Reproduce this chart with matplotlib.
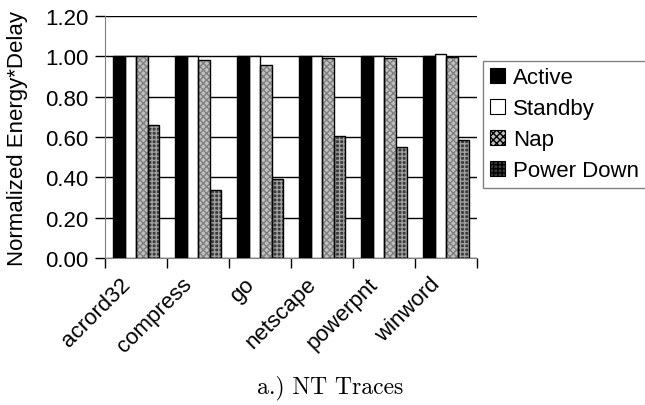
import numpy as np
import matplotlib
matplotlib.use("Agg")
import matplotlib.pyplot as plt
import matplotlib.transforms as mtransforms
from matplotlib.patches import Patch

categories = ["acrord32", "compress", "go", "netscape", "powerpnt", "winword"]
active = [1.00, 1.00, 1.00, 1.00, 1.00, 1.00]
standby = [1.00, 1.00, 1.00, 1.00, 1.00, 1.01]
nap = [1.00, 0.98, 0.955, 0.99, 0.99, 0.995]
power_down = [0.66, 0.335, 0.39, 0.605, 0.55, 0.585]
series_names = ["Active", "Standby", "Nap", "Power Down"]

plt.rcParams['font.family'] = ['Liberation Sans', 'DejaVu Sans']
plt.rcParams['hatch.linewidth'] = 1.0

fig = plt.figure(figsize=(6.45, 4.06), dpi=100)
ax = fig.add_axes([0.163, 0.362, 0.577, 0.596])

x = np.arange(len(categories))
w = 0.185
styles = [
    dict(face="black", hatch=None, hcol="black"),
    dict(face="white", hatch=None, hcol="black"),
    dict(face="#c0c0c0", hatch="xxxxx", hcol="#808080"),
    dict(face="#3a3a3a", hatch="++++", hcol="#a0a0a0"),
]
data = [active, standby, nap, power_down]
handles = []
for i, (vals, st) in enumerate(zip(data, styles)):
    pos = x + (i - 1.5) * w
    ax.bar(pos, vals, w, color=st["face"], hatch=st["hatch"],
           edgecolor=st["hcol"], linewidth=0, zorder=3)
    ax.bar(pos, vals, w, fill=False, edgecolor="black", linewidth=1.0, zorder=4)
    handles.append(Patch(facecolor=st["face"], hatch=st["hatch"],
                         edgecolor="black", linewidth=0.8))

ax.set_ylim(0, 1.2)
ax.set_xlim(-0.5, len(categories) - 0.5)
ax.set_yticks(np.arange(0, 1.21, 0.2))
ax.set_yticklabels([f"{v:.2f}" for v in np.arange(0, 1.21, 0.2)], fontsize=16)
ax.yaxis.grid(True, color="black", linewidth=1.0, zorder=0)
ax.set_axisbelow(True)

ax.set_xticks(x)
ax.set_xticklabels(categories, rotation=45, ha="right", va="top",
                   rotation_mode="anchor", fontsize=16)
ax.tick_params(axis="x", which="major", length=0, pad=11)
# nudge the rotated labels a bit to the left
shift = mtransforms.ScaledTranslation(-12 / 72, 0, fig.dpi_scale_trans)
for lbl in ax.get_xticklabels():
    lbl.set_transform(lbl.get_transform() + shift)
ax.set_xticks(np.arange(-0.5, len(categories), 1), minor=True)
ax.tick_params(axis="x", which="minor", length=7, color="black", width=1)
ax.tick_params(axis="y", length=7, color="black", width=1, pad=5)

for s in ["top", "right"]:
    ax.spines[s].set_visible(False)
ax.spines["left"].set_color("#808080")
ax.spines["bottom"].set_color("#808080")

ax.set_ylabel("Normalized Energy*Delay", fontsize=16, labelpad=12)

leg = fig.legend(handles, series_names, loc="upper left",
                 bbox_to_anchor=(0.749, 0.848), fontsize=16,
                 frameon=True, fancybox=False, edgecolor="#606060",
                 handlelength=0.7, handleheight=0.7, handletextpad=0.35,
                 borderpad=0.3, labelspacing=0.45, borderaxespad=0)
leg.get_frame().set_linewidth(1.0)

fig.text(0.512, 0.032, "a.) NT Traces", fontname="cmr10", fontsize=17,
         ha="center", va="baseline")

fig.savefig("out.png", dpi=100)
